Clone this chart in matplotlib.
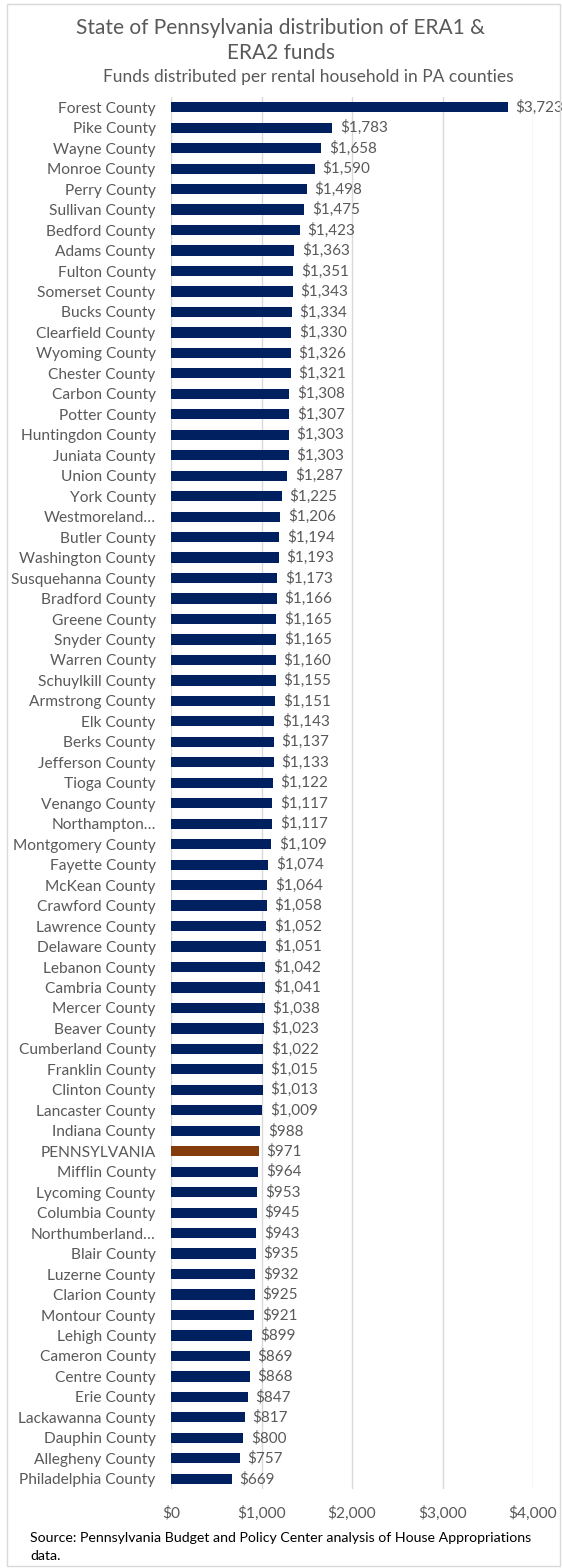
import matplotlib.pyplot as plt
from matplotlib.patches import Rectangle

counties = [
    'Forest County', 'Pike County', 'Wayne County', 'Monroe County', 'Perry County',
    'Sullivan County', 'Bedford County', 'Adams County', 'Fulton County', 'Somerset County',
    'Bucks County', 'Clearfield County', 'Wyoming County', 'Chester County', 'Carbon County',
    'Potter County', 'Huntingdon County', 'Juniata County', 'Union County', 'York County',
    'Westmoreland…', 'Butler County', 'Washington County', 'Susquehanna County',
    'Bradford County', 'Greene County', 'Snyder County', 'Warren County', 'Schuylkill County',
    'Armstrong County', 'Elk County', 'Berks County', 'Jefferson County', 'Tioga County',
    'Venango County', 'Northampton…', 'Montgomery County', 'Fayette County', 'McKean County',
    'Crawford County', 'Lawrence County', 'Delaware County', 'Lebanon County',
    'Cambria County', 'Mercer County', 'Beaver County', 'Cumberland County',
    'Franklin County', 'Clinton County', 'Lancaster County', 'Indiana County',
    'PENNSYLVANIA', 'Mifflin County', 'Lycoming County', 'Columbia County',
    'Northumberland…', 'Blair County', 'Luzerne County', 'Clarion County', 'Montour County',
    'Lehigh County', 'Cameron County', 'Centre County', 'Erie County', 'Lackawanna County',
    'Dauphin County', 'Allegheny County', 'Philadelphia County',
]
funds = [
    3723, 1783, 1658, 1590, 1498, 1475, 1423, 1363, 1351, 1343,
    1334, 1330, 1326, 1321, 1308, 1307, 1303, 1303, 1287, 1225,
    1206, 1194, 1193, 1173, 1166, 1165, 1165, 1160, 1155, 1151,
    1143, 1137, 1133, 1122, 1117, 1117, 1109, 1074, 1064, 1058,
    1052, 1051, 1042, 1041, 1038, 1023, 1022, 1015, 1013, 1009,
    988, 971, 964, 953, 945, 943, 935, 932, 925, 921,
    899, 869, 868, 847, 817, 800, 757, 669,
]
x_ticks = [0, 1000, 2000, 3000, 4000]

navy = '#002060'
brown = '#843C0C'
gray_text = '#595959'

plt.rcParams['font.family'] = ['Lato', 'DejaVu Sans']

fig = plt.figure(figsize=(5.62, 15.68), dpi=100)
ax = fig.add_axes([171 / 562, 1 - 1489 / 1568, (533 - 171) / 562, (1489 - 97) / 1568])

colors = [brown if c == 'PENNSYLVANIA' else navy for c in counties]
ypos = list(range(len(counties)))
ax.barh(ypos, funds, height=0.5, color=colors, zorder=3)
for y, v in zip(ypos, funds):
    ax.text(v + 85, y, f'${v:,}', va='center', ha='left', fontsize=11,
            color=gray_text, zorder=4)

ax.set_ylim(len(counties) - 0.5, -0.5)
ax.set_xlim(0, 4000)
ax.set_yticks(ypos)
ax.set_yticklabels(counties, fontsize=11.2, color=gray_text)
ax.set_xticks(x_ticks)
ax.set_xticklabels([f'${t:,}' for t in x_ticks], fontsize=11.2, color=gray_text)
ax.tick_params(axis='both', length=0)
ax.tick_params(axis='y', pad=11)
ax.tick_params(axis='x', pad=12)
ax.grid(axis='x', color='#D9D9D9', linewidth=1, zorder=0)
for s in ax.spines.values():
    s.set_visible(False)

fig.text(0.5, 1 - 28 / 1568, 'State of Pennsylvania distribution of ERA1 &',
         ha='center', va='center', fontsize=15, color=gray_text)
fig.text(0.5, 1 - 53 / 1568, 'ERA2 funds',
         ha='center', va='center', fontsize=15, color=gray_text)
fig.text(308 / 562, 1 - 77 / 1568, 'Funds distributed per rental household in PA counties',
         ha='center', va='center', fontsize=12.5, color=gray_text)
fig.text(30 / 562, 1 - 1538 / 1568,
         'Source: Pennsylvania Budget and Policy Center analysis of House Appropriations',
         ha='left', va='center', fontsize=10.2, color='black')
fig.text(30 / 562, 1 - 1556 / 1568, 'data.',
         ha='left', va='center', fontsize=10.2, color='black')

fig.patches.append(Rectangle((7 / 562, 2 / 1568), 553 / 562, 1562 / 1568,
                             transform=fig.transFigure, fill=False,
                             edgecolor='#D9D9D9', linewidth=1))

fig.savefig('out.png', dpi=100)
